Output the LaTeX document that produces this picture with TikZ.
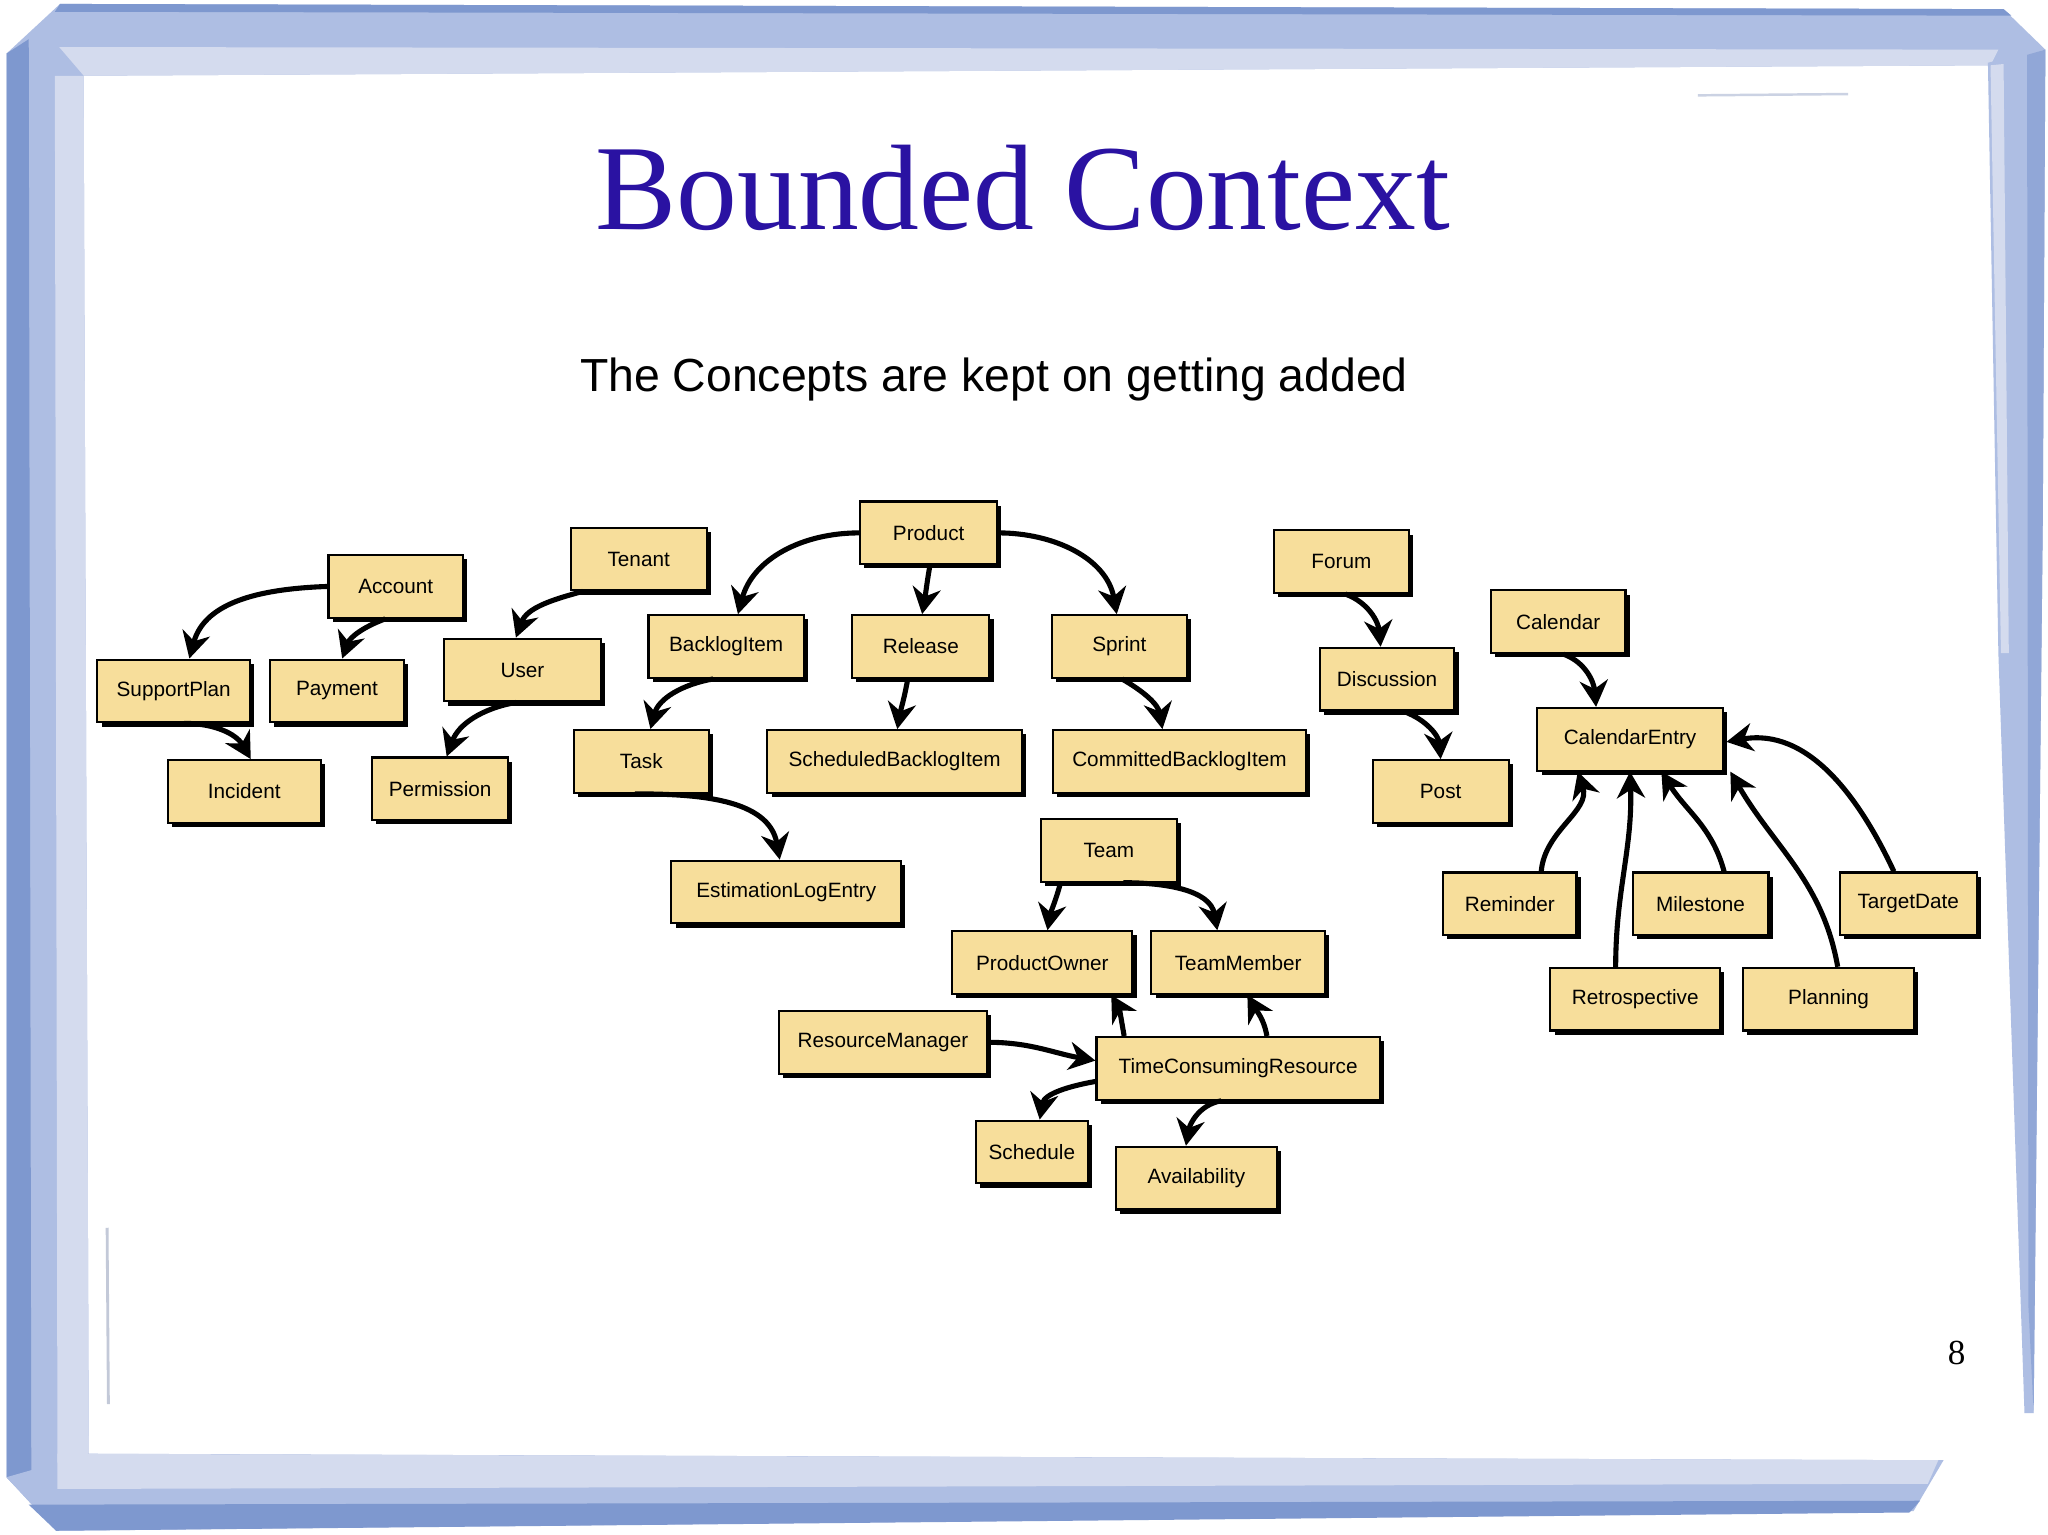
\documentclass[tikz,border=0pt]{standalone}
\usepackage{fontspec}
\setmainfont{Liberation Serif}
\newfontfamily\boxfont{Liberation Sans}
\newfontfamily\subfont{Liberation Sans}
\usetikzlibrary{arrows.meta,shadows,calc}
\definecolor{boxyellow}{HTML}{F7DE9B}
\definecolor{titleblue}{HTML}{2A12A2}
\definecolor{frameDark}{HTML}{7E98CF}
\definecolor{frameMid}{HTML}{AEBEE3}
\definecolor{frameLight}{HTML}{D4DBEE}
\newcommand\bnode[5]{\node[box,minimum width=#4*0.013061cm] (#1) at (#2,#3) {#5};}
\begin{document}
\begin{tikzpicture}[x=0.013061cm,y=-0.013061cm,
  box/.style={draw=black,line width=0.6pt,fill=boxyellow,minimum height=48*0.013061cm,
    inner sep=0pt,font=\boxfont\fontsize{5.9}{7}\selectfont,
    drop shadow={shadow xshift=1.2pt,shadow yshift=-1.2pt,fill=black,opacity=1}},
  conn/.style={line width=1.45pt,-{Stealth[length=7.5pt,width=8pt,inset=2.4pt]}}]
\useasboundingbox (0,0) rectangle (1568,1175);
% ---------- frame ----------
\fill[white] (0,0) rectangle (1568,1175);
% top band
\fill[frameMid] (46,3) -- (1534,7) -- (1566,38) -- (1524,50) -- (62,58) -- (5,41) -- cycle;
\fill[frameDark] (46,3) -- (1534,7) -- (1540,12) -- (42,9) -- cycle;
\fill[frameLight] (40,36) -- (1530,38) -- (1524,50) -- (62,58) -- (30,50) -- cycle;
% left band
\fill[frameMid] (5,41) -- (40,30) -- (64,58) -- (68,1113) -- (43,1172) -- (5,1131) -- cycle;
\fill[frameDark] (5,41) -- (22,30) -- (24,1150) -- (5,1131) -- cycle;
\fill[frameLight] (42,58) -- (64,58) -- (68,1113) -- (44,1120) -- cycle;
% bottom band
\fill[frameMid] (5,1131) -- (68,1113) -- (1488,1118) -- (1465,1157) -- (43,1172) -- cycle;
\fill[frameLight] (44,1113) -- (1484,1118) -- (1476,1136) -- (44,1140) -- cycle;
\fill[frameDark] (22,1152) -- (1470,1149) -- (1462,1158) -- (43,1172) -- cycle;
% right band
\fill[frameMid] (1522,48) -- (1566,38) -- (1564,400) -- (1557,1082) -- (1550,1082) -- (1530,500) -- cycle;
\fill[frameDark!60!frameMid] (1552,42) -- (1566,38) -- (1564,400) -- (1557,1082) -- (1553,1000) -- cycle;
\fill[frameLight] (1524,50) -- (1534,49) -- (1538,500) -- (1532,500) -- cycle;
% faint strokes
\draw[frameLight!80!gray,line width=0.8pt] (82,940) -- (83,1075);
\draw[frameLight!90!gray,line width=0.7pt] (1300,73) -- (1415,72);
% ---------- texts ----------
\node[anchor=base,text=titleblue,font=\fontsize{34.6}{40}\selectfont] (title) at (783,176) {Bounded Context};
\node[anchor=base,font=\subfont\fontsize{13.2}{15}\selectfont] (sub) at (761,300) {The Concepts are kept on getting added};
\node[anchor=base,font=\fontsize{10}{12}\selectfont] (page) at (1498,1045) {8};
% ---------- nodes ----------
\bnode{Account}{303}{449}{103}{Account}
\bnode{SupportPlan}{133}{529}{117}{SupportPlan}
\bnode{Payment}{258}{529}{103}{Payment}
\bnode{Incident}{187}{606}{117}{Incident}
\bnode{Tenant}{489}{428}{104}{Tenant}
\bnode{User}{400}{513}{120}{User}
\bnode{Permission}{337}{604}{104}{Permission}
\bnode{Product}{711}{408}{105}{Product}
\bnode{BacklogItem}{556}{495}{119}{BacklogItem}
\bnode{Release}{705}{495}{105}{Release}
\bnode{Sprint}{857}{495}{103}{Sprint}
\bnode{Task}{491}{583}{103}{Task}
\bnode{SBI}{685}{583}{195}{ScheduledBacklogItem}
\bnode{CBI}{903}{583}{194}{CommittedBacklogItem}
\bnode{ELE}{602}{683}{176}{EstimationLogEntry}
\bnode{Forum}{1027}{430}{103}{Forum}
\bnode{Discussion}{1062}{520}{103}{Discussion}
\bnode{Post}{1103}{606}{104}{Post}
\bnode{Calendar}{1193}{476}{103}{Calendar}
\bnode{CE}{1248}{566}{142}{CalendarEntry}
\bnode{Reminder}{1156}{692}{102}{Reminder}
\bnode{Milestone}{1302}{692}{104}{Milestone}
\bnode{TargetDate}{1461}{692}{105}{TargetDate}
\bnode{Retrospective}{1252}{765}{130}{Retrospective}
\bnode{Planning}{1400}{765}{131}{Planning}
\bnode{Team}{849}{651}{104}{Team}
\bnode{PO}{798}{737}{138}{ProductOwner}
\bnode{TM}{948}{737}{133}{TeamMember}
\bnode{RM}{676}{798}{159}{ResourceManager}
\bnode{TCR}{948}{818}{217}{TimeConsumingResource}
\bnode{Schedule}{790}{882}{86}{Schedule}
\bnode{Availability}{916}{902}{123}{Availability}
% ---------- connectors ----------
\draw[conn] (Account.west) to[out=182,in=75] ($(SupportPlan.north)+(12,0)$);
\draw[conn] ($(Account.south)+(-8,0)$) to[out=200,in=70] ($(Payment.north)+(4,0)$);
\draw[conn] ($(SupportPlan.south)+(8,0)$) to[out=0,in=120] ($(Incident.north)+(5,0)$);
\draw[conn] ($(Tenant.south west)+(10,0)$) to[out=195,in=70] ($(User.north)+(-5,0)$);
\draw[conn] ($(User.south)+(-5,0)$) to[out=190,in=70] ($(Permission.north)+(5,0)$);
\draw[conn] (Product.west) to[out=180,in=75] ($(BacklogItem.north)+(9,0)$);
\draw[conn] ($(Product.south)+(1,0)$) to[out=260,in=80] ($(Release.north)+(1,0)$);
\draw[conn] (Product.east) to[out=0,in=100] ($(Sprint.north)+(-2,0)$);
\draw[conn] ($(BacklogItem.south)+(-10,0)$) to[out=190,in=75] ($(Task.north)+(7,0)$);
\draw[conn] ($(Release.south)+(-10,0)$) to[out=260,in=80] ($(SBI.north)+(2,0)$);
\draw[conn] ($(Sprint.south)+(2,0)$) to[out=-30,in=100] ($(CBI.north)+(-13,0)$);
\draw[conn] ($(Task.south)+(-5,0)$) to[out=0,in=100] ($(ELE.north)+(-5,0)$);
\draw[conn] ($(Forum.south)+(3,0)$) to[out=-20,in=95] ($(Discussion.north)+(-5,0)$);
\draw[conn] ($(Discussion.south)+(13,0)$) to[out=-20,in=95] ($(Post.north)+(0,0)$);
\draw[conn] ($(Calendar.south)+(4,0)$) to[out=-20,in=95] ($(CE.north)+(-26,0)$);
\draw[conn] ($(Reminder.north)+(24,0)$) to[out=85,in=-72] ($(CE.south)+(-40,0)$);
\draw[conn] ($(Retrospective.north)+(-15,0)$) to[out=90,in=-88] ($(CE.south)+(0,0)$);
\draw[conn] ($(Milestone.north)+(18,0)$) to[out=105,in=-58] ($(CE.south)+(24,0)$);
\draw[conn] ($(Planning.north)+(7,0)$) to[out=100,in=-60] ($(CE.south east)+(5,0)$);
\draw[conn] ($(TargetDate.north)+(-11,0)$) to[out=115,in=10] ($(CE.east)+(2,2)$);
\draw[conn] ($(Team.south)+(-37,0)$) to[out=255,in=80] ($(PO.north)+(4,0)$);
\draw[conn] ($(Team.south)+(11,0)$) to[out=0,in=100] ($(TM.north)+(-16,0)$);
\draw[conn] ($(TCR.north west)+(22,0)$) to[out=100,in=-60] ($(PO.south east)+(-17,0)$);
\draw[conn] ($(TCR.north)+(22,0)$) to[out=100,in=-60] ($(TM.south)+(7,0)$);
\draw[conn] (RM.east) to[out=0,in=170] ($(TCR.west)+(0,-6)$);
\draw[conn] ($(TCR.west)+(0,10)$) to[out=190,in=80] ($(Schedule.north)+(6,0)$);
\draw[conn] ($(TCR.south)+(-13,0)$) to[out=190,in=80] ($(Availability.north)+(-8,0)$);
\end{tikzpicture}
\end{document}
